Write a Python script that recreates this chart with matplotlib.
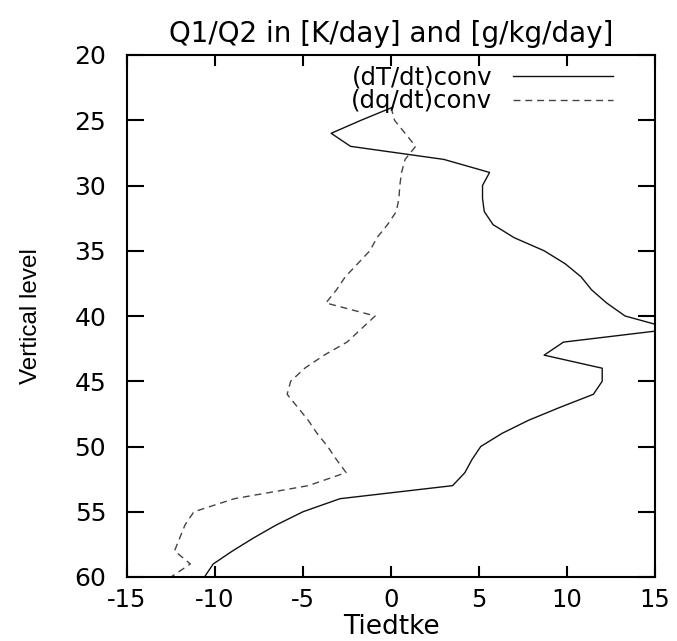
import matplotlib
matplotlib.use("Agg")
import matplotlib.pyplot as plt

# Vertical levels (model level index)
levels = [24, 25, 26, 27, 28, 29, 30, 31, 32, 33, 34, 35, 36, 37, 38, 39, 40, 41,
          42, 43, 44, 45, 46, 47, 48, 49, 50, 51, 52, 53, 54, 55, 56, 57, 58, 59, 60]

# (dT/dt)conv  [K/day]
dTdt_conv = [0.1, -1.7, -3.4, -2.3, 3.0, 5.6, 5.2, 5.2, 5.3, 5.8, 7.0, 8.7, 9.9,
             10.8, 11.4, 12.25, 13.3, 16.0, 9.8, 8.7, 12.0, 12.0, 11.5, 9.6, 7.8,
             6.3, 5.1, 4.6, 4.2, 3.5, -2.9, -5.0, -6.5, -7.8, -9.0, -10.1, -10.6]

# (dq/dt)conv  [g/kg/day]
dqdt_conv = [0.0, 0.2, 0.8, 1.4, 0.8, 0.6, 0.5, 0.45, 0.3, -0.2, -0.8, -1.2, -1.9,
             -2.6, -3.1, -3.7, -0.9, -1.7, -2.5, -3.8, -4.9, -5.7, -5.9, -5.3, -4.7,
             -4.2, -3.6, -3.1, -2.55, -4.7, -8.9, -11.2, -11.7, -12.0, -12.3, -11.4, -12.5]

xticks = [-15, -10, -5, 0, 5, 10, 15]
yticks = [20, 25, 30, 35, 40, 45, 50, 55, 60]

plt.rcParams['font.family'] = ['DejaVu Sans']

fig = plt.figure(figsize=(6.77, 6.41), dpi=100)
ax = fig.add_axes([127/677, 1 - 577/641, (655-127)/677, (577-55)/641])

ax.plot(dTdt_conv, levels, color='#111111', lw=1.0, label='(dT/dt)conv')
ax.plot(dqdt_conv, levels, color='#444444', lw=1.0, linestyle=(0, (5, 3.5)),
        label='(dq/dt)conv')

ax.set_xlim(-15, 15)
ax.set_ylim(60, 20)
ax.set_xticks(xticks)
ax.set_yticks(yticks)
ax.set_xticklabels([str(v) for v in xticks])
ax.set_yticklabels([str(v) for v in yticks])

for s in ax.spines.values():
    s.set_linewidth(1.5)
    s.set_color('black')

ax.tick_params(axis='x', direction='in', length=8, width=1.5, top=True,
               labelsize=17.5, pad=8)
ax.tick_params(axis='y', direction='in', length=12, width=1.5, right=True,
               labelsize=18, pad=15)

ax.set_title('Q1/Q2 in [K/day] and [g/kg/day]', fontsize=20, pad=9)
ax.set_xlabel('Tiedtke', fontsize=19, labelpad=1)
ax.set_ylabel('Vertical level', fontsize=17.5, labelpad=23,
              family=['Liberation Sans', 'DejaVu Sans'])

leg = ax.legend(loc='upper right', bbox_to_anchor=(0.92, 0.98), frameon=False,
                markerfirst=False, fontsize=17.5, handlelength=4.1,
                handletextpad=0.85, labelspacing=0.0, borderaxespad=0,
                borderpad=0)

fig.savefig('out.png', dpi=100)
